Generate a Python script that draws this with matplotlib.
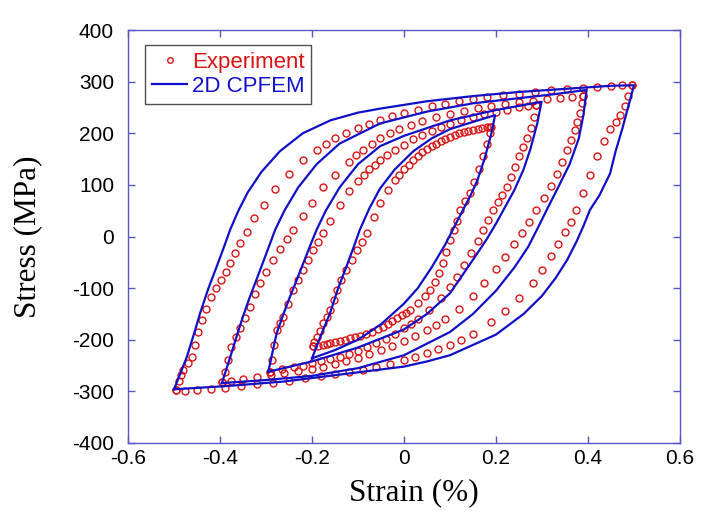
import matplotlib
matplotlib.use('Agg')
import matplotlib.pyplot as plt

plt.rcParams['axes.unicode_minus'] = False

# ---- experiment (strain %, stress MPa), one list per branch ----
exp_a02_up_x = [-0.198, -0.195, -0.19, -0.183, -0.175, -0.168, -0.161, -0.153, -0.146, -0.136, -0.125, -0.114, -0.103, -0.092, -0.081, -0.066, -0.052, -0.035, -0.02, -0.01, 0.0, 0.01, 0.02, 0.03, 0.04, 0.05, 0.06, 0.07, 0.08, 0.09, 0.1, 0.11, 0.12, 0.13, 0.14, 0.15, 0.16, 0.17, 0.18, 0.187]
exp_a02_up_y = [-213, -205, -195, -183, -168, -155, -142, -123, -104, -85, -65, -45, -26, -10, 6, 37, 65, 90, 110, 120, 130, 139, 148, 156, 163, 169, 175, 180, 185, 189, 193, 197, 200, 203, 205, 207, 209, 211, 212, 213]
exp_a02_dn_x = [0.19, 0.186, 0.18, 0.172, 0.163, 0.153, 0.143, 0.133, 0.122, 0.115, 0.108, 0.1, 0.092, 0.085, 0.076, 0.067, 0.057, 0.045, 0.03, 0.013, 0.004, -0.005, -0.015, -0.025, -0.035, -0.045, -0.057, -0.07, -0.082, -0.095, -0.106, -0.117, -0.128, -0.14, -0.15, -0.16, -0.168, -0.175, -0.187, -0.198]
exp_a02_dn_y = [213, 200, 180, 155, 130, 105, 85, 68, 51, 30, 12, -7, -30, -52, -70, -88, -104, -116, -128, -142, -148, -153, -158, -163, -169, -175, -180, -185, -189, -192, -195, -197, -200, -203, -205, -207, -209, -210, -212, -213]

exp_a03_up_x = [-0.291, -0.287, -0.282, -0.277, -0.27, -0.262, -0.252, -0.241, -0.23, -0.219, -0.208, -0.197, -0.186, -0.175, -0.16, -0.14, -0.12, -0.1, -0.088, -0.075, -0.063, -0.052, -0.036, -0.02, 0.0, 0.02, 0.04, 0.06, 0.08, 0.1, 0.125, 0.15, 0.175, 0.2, 0.225, 0.25, 0.27, 0.288]
exp_a03_up_y = [-262, -240, -210, -181, -168, -155, -130, -104, -85, -65, -45, -26, -10, 6, 30, 62, 88, 108, 119, 130, 139, 148, 158, 168, 178, 188, 197, 205, 212, 218, 225, 232, 237, 242, 246, 250, 253, 255]
exp_a03_dn_x = [0.288, 0.283, 0.276, 0.268, 0.259, 0.25, 0.241, 0.232, 0.223, 0.213, 0.204, 0.194, 0.183, 0.172, 0.16, 0.145, 0.13, 0.115, 0.1, 0.08, 0.055, 0.03, 0.015, 0.0, -0.02, -0.04, -0.06, -0.08, -0.1, -0.12, -0.14, -0.16, -0.18, -0.2, -0.22, -0.24, -0.265, -0.291]
exp_a03_dn_y = [255, 232, 210, 190, 174, 155, 135, 115, 96, 80, 66, 51, 32, 12, -8, -32, -55, -78, -98, -120, -142, -160, -169, -178, -188, -198, -207, -215, -222, -228, -233, -238, -242, -246, -250, -253, -257, -262]

exp_a04_up_x = [-0.396, -0.39, -0.383, -0.375, -0.366, -0.357, -0.346, -0.335, -0.324, -0.313, -0.3, -0.285, -0.27, -0.255, -0.241, -0.22, -0.2, -0.175, -0.15, -0.12, -0.105, -0.09, -0.07, -0.052, -0.03, -0.01, 0.015, 0.04, 0.07, 0.1, 0.13, 0.16, 0.19, 0.22, 0.25, 0.28, 0.31, 0.34, 0.365, 0.39]
exp_a04_up_y = [-281, -262, -240, -215, -195, -178, -157, -136, -112, -90, -68, -46, -24, -5, 12, 40, 65, 95, 120, 145, 157, 168, 180, 190, 200, 208, 216, 224, 231, 238, 244, 249, 253, 257, 260, 263, 266, 268, 271, 273]
exp_a04_dn_x = [0.39, 0.387, 0.382, 0.377, 0.372, 0.363, 0.354, 0.343, 0.332, 0.32, 0.304, 0.288, 0.272, 0.256, 0.24, 0.22, 0.2, 0.175, 0.15, 0.12, 0.09, 0.07, 0.05, 0.025, 0.0, -0.025, -0.05, -0.075, -0.1, -0.125, -0.15, -0.175, -0.2, -0.23, -0.26, -0.29, -0.32, -0.35, -0.375, -0.396]
exp_a04_dn_y = [273, 259, 240, 222, 206, 187, 168, 145, 122, 98, 75, 51, 28, 6, -15, -40, -63, -90, -115, -140, -160, -172, -182, -193, -203, -212, -220, -228, -235, -241, -247, -252, -256, -261, -265, -269, -273, -277, -280, -282]

exp_a05_up_x = [-0.495, -0.49, -0.485, -0.48, -0.47, -0.4615, -0.455, -0.448, -0.44, -0.43, -0.419, -0.408, -0.397, -0.388, -0.378, -0.368, -0.357, -0.342, -0.325, -0.305, -0.28, -0.25, -0.22, -0.19, -0.17, -0.15, -0.125, -0.1, -0.075, -0.052, -0.025, 0.0, 0.03, 0.06, 0.09, 0.12, 0.15, 0.18, 0.215, 0.25, 0.285, 0.32, 0.355, 0.39, 0.42, 0.45, 0.475, 0.495]
exp_a05_up_y = [-297, -280, -268, -259, -245, -233, -210, -185, -162, -140, -117, -100, -84, -68, -52, -32, -13, 9, 35, 62, 92, 122, 148, 168, 179, 190, 200, 210, 218, 226, 233, 240, 246, 252, 257, 262, 266, 270, 274, 277, 280, 283, 286, 288, 290, 292, 293, 294]
exp_a05_dn_x = [0.495, 0.488, 0.48, 0.47, 0.46, 0.448, 0.435, 0.42, 0.405, 0.39, 0.375, 0.362, 0.35, 0.335, 0.32, 0.3, 0.28, 0.25, 0.22, 0.19, 0.15, 0.125, 0.1, 0.075, 0.05, 0.025, 0.0, -0.03, -0.06, -0.09, -0.12, -0.15, -0.18, -0.215, -0.25, -0.285, -0.32, -0.355, -0.39, -0.42, -0.45, -0.475, -0.495]
exp_a05_dn_y = [294, 272, 252, 235, 222, 208, 185, 155, 120, 85, 51, 28, 8, -15, -38, -65, -90, -120, -145, -165, -188, -200, -210, -218, -226, -233, -240, -247, -253, -258, -263, -267, -271, -275, -279, -283, -286, -289, -293, -296, -298, -299, -297]

# ---- 2D CPFEM ----
sim_a02_x = [-0.2, -0.18, -0.161, -0.143, -0.125, -0.11, -0.096, -0.075, -0.052, -0.02, 0.02, 0.06, 0.1, 0.15, 0.198,
             0.19, 0.175, 0.16, 0.145, 0.128, 0.11, 0.09, 0.06, 0.03, 0.0, -0.05, -0.1, -0.15, -0.2]
sim_a02_y = [-236, -190, -149, -100, -58, -22, 13, 55, 93, 130, 165, 190, 208, 222, 235,
             200, 150, 110, 80, 51, 20, -15, -60, -100, -130, -170, -200, -220, -236]
sim_a03_x = [-0.295, -0.286, -0.277, -0.262, -0.248, -0.233, -0.219, -0.205, -0.19, -0.17, -0.14, -0.1, -0.052, 0.0, 0.1, 0.2, 0.299,
             0.29, 0.275, 0.26, 0.24, 0.216, 0.2, 0.18, 0.15, 0.1, 0.05, 0.0, -0.1, -0.2, -0.295]
sim_a03_y = [-262, -225, -188, -150, -117, -84, -52, -20, 13, 50, 95, 140, 175, 195, 225, 245, 261,
             220, 170, 130, 90, 51, 25, -5, -45, -110, -150, -180, -215, -242, -262]
sim_a04_x = [-0.396, -0.38, -0.364, -0.35, -0.335, -0.32, -0.306, -0.293, -0.28, -0.26, -0.23, -0.19, -0.14, -0.052, 0.05, 0.15, 0.25, 0.33, 0.397,
             0.39, 0.38, 0.36, 0.335, 0.31, 0.29, 0.27, 0.24, 0.2, 0.15, 0.1, 0.0, -0.1, -0.2, -0.3, -0.396]
sim_a04_y = [-284, -240, -194, -155, -117, -82, -49, -18, 13, 50, 95, 140, 180, 219, 242, 258, 268, 276, 284,
             235, 190, 140, 95, 51, 15, -20, -60, -105, -150, -185, -230, -255, -270, -278, -284]
sim_a05_x = [-0.5, -0.486, -0.472, -0.457, -0.443, -0.425, -0.407, -0.392, -0.378, -0.36, -0.34, -0.31, -0.27, -0.22, -0.16, -0.1, -0.05, 0.05, 0.15, 0.25, 0.35, 0.45, 0.5,
             0.49, 0.475, 0.46, 0.448, 0.425, 0.404, 0.39, 0.375, 0.355, 0.33, 0.3, 0.26, 0.2, 0.15, 0.1, 0.05, 0.0, -0.117, -0.262, -0.39, -0.5]
sim_a05_y = [-296, -265, -233, -190, -148, -100, -58, -22, 13, 50, 85, 125, 165, 200, 225, 240, 248, 262, 272, 280, 286, 292, 293,
             260, 210, 165, 122, 80, 51, 20, -10, -45, -80, -115, -150, -190, -210, -230, -242, -252, -265, -281, -290, -296]

xticks = [-0.6, -0.4, -0.2, 0, 0.2, 0.4, 0.6]
yticks = [-400, -300, -200, -100, 0, 100, 200, 300, 400]

red = '#d81414'
blue = '#1010c8'
frame = '#5858c4'

fig = plt.figure(figsize=(7.13, 5.24), dpi=100)
ax = fig.add_axes([0.1795, 0.1546, 0.9537 - 0.1795, 0.9427 - 0.1546])

exp_x = [exp_a02_up_x, exp_a02_dn_x, exp_a03_up_x, exp_a03_dn_x,
         exp_a04_up_x, exp_a04_dn_x, exp_a05_up_x, exp_a05_dn_x]
exp_y = [exp_a02_up_y, exp_a02_dn_y, exp_a03_up_y, exp_a03_dn_y,
         exp_a04_up_y, exp_a04_dn_y, exp_a05_up_y, exp_a05_dn_y]
for xs, ys in zip(exp_x, exp_y):
    h_exp, = ax.plot(xs, ys, 'o', ms=5, mfc='none', mec=red, mew=1.0, color=red)

for xs, ys in [(sim_a02_x, sim_a02_y), (sim_a03_x, sim_a03_y),
               (sim_a04_x, sim_a04_y), (sim_a05_x, sim_a05_y)]:
    h_sim, = ax.plot(xs, ys, '-', color=blue, lw=1.6)

ax.set_xlim(-0.6, 0.6)
ax.set_ylim(-400, 400)
ax.set_xticks(xticks)
ax.set_yticks(yticks)
ax.set_xticklabels(['%g' % t for t in xticks])
ax.set_yticklabels(['%g' % t for t in yticks])

for s in ax.spines.values():
    s.set_color(frame)
    s.set_linewidth(1.0)
ax.tick_params(direction='in', length=5, width=1, color=frame,
               top=True, right=True, labelsize=15)
ax.tick_params(axis='y', pad=10)
ax.tick_params(axis='x', pad=4)
for lab in ax.get_xticklabels() + ax.get_yticklabels():
    lab.set_family('Liberation Sans')

ax.set_xlabel('Strain (%)', family='Liberation Serif', fontsize=22.5)
ax.set_ylabel('Stress (MPa)', family='Liberation Serif', fontsize=22.5)
ax.xaxis.set_label_coords(0.518, -0.085)
ax.yaxis.set_label_coords(-0.156, 0.5)

leg = ax.legend([h_exp, h_sim], ['Experiment', '2D CPFEM'],
                loc='upper left', bbox_to_anchor=(0.031, 0.964), borderaxespad=0,
                prop={'family': 'Liberation Sans', 'size': 16},
                fancybox=False, edgecolor='#505050', framealpha=1,
                handlelength=1.6, handletextpad=0.2, labelspacing=0.15,
                borderpad=0.3, markerscale=0.8)
leg.get_frame().set_linewidth(1.0)
leg.get_texts()[0].set_color(red)
leg.get_texts()[1].set_color(blue)

fig.savefig('out.png', dpi=100)
